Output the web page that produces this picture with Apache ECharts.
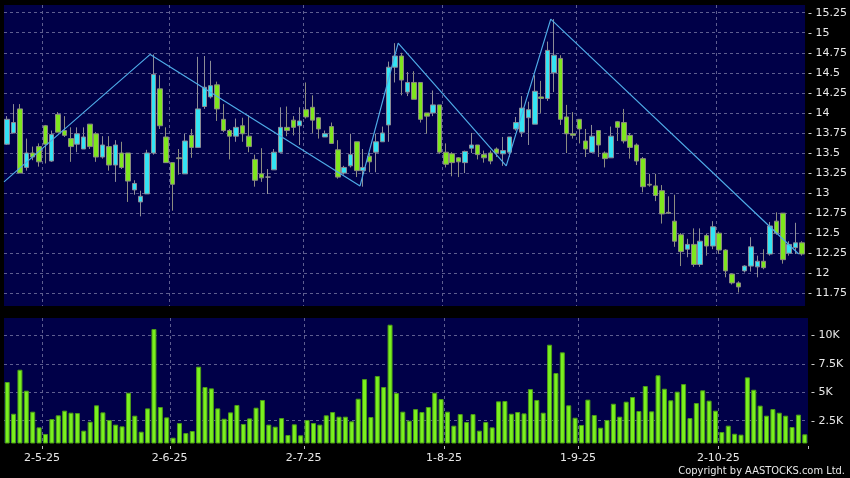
<!DOCTYPE html>
<html>
<head>
<meta charset="utf-8">
<script src="https://cdn.jsdelivr.net/npm/echarts@6/dist/echarts.min.js"></script>
<style>
  html, body { margin: 0; padding: 0; background: #000; }
  #chart { width: 850px; height: 478px; }
</style>
</head>
<body>
<div id="chart"></div>
<script>
// trading days, Apr - Oct 2025
const dates = [
  '23-4-25', '24-4-25', '25-4-25', '28-4-25', '29-4-25', '30-4-25',
  '2-5-25', '6-5-25', '7-5-25', '8-5-25', '9-5-25', '12-5-25', '13-5-25', '14-5-25', '15-5-25', '16-5-25',
  '19-5-25', '20-5-25', '21-5-25', '22-5-25', '23-5-25', '26-5-25', '27-5-25', '28-5-25', '29-5-25', '30-5-25',
  '2-6-25', '3-6-25', '4-6-25', '5-6-25', '6-6-25', '9-6-25', '10-6-25', '11-6-25', '12-6-25', '13-6-25',
  '16-6-25', '17-6-25', '18-6-25', '19-6-25', '20-6-25', '23-6-25', '24-6-25', '25-6-25', '26-6-25', '27-6-25', '30-6-25',
  '2-7-25', '3-7-25', '4-7-25', '7-7-25', '8-7-25', '9-7-25', '10-7-25', '11-7-25', '14-7-25', '15-7-25', '16-7-25',
  '17-7-25', '18-7-25', '21-7-25', '22-7-25', '23-7-25', '24-7-25', '25-7-25', '28-7-25', '29-7-25', '30-7-25', '31-7-25',
  '1-8-25', '4-8-25', '5-8-25', '6-8-25', '7-8-25', '8-8-25', '11-8-25', '12-8-25', '13-8-25', '14-8-25', '15-8-25',
  '18-8-25', '19-8-25', '20-8-25', '21-8-25', '22-8-25', '25-8-25', '26-8-25', '27-8-25', '28-8-25', '29-8-25',
  '1-9-25', '2-9-25', '3-9-25', '4-9-25', '5-9-25', '8-9-25', '9-9-25', '10-9-25', '11-9-25', '12-9-25',
  '15-9-25', '16-9-25', '17-9-25', '18-9-25', '19-9-25', '22-9-25', '23-9-25', '24-9-25', '25-9-25', '26-9-25', '29-9-25', '30-9-25',
  '2-10-25', '3-10-25', '6-10-25', '8-10-25', '9-10-25', '10-10-25', '13-10-25', '14-10-25', '15-10-25', '16-10-25',
  '17-10-25', '20-10-25', '21-10-25', '22-10-25'
]
const labelDates = ['2-5-25', '2-6-25', '2-7-25', '1-8-25', '1-9-25', '2-10-25']

const open = [
  13.61, 13.75, 14.05, 13.32, 13.50, 13.58, 13.84, 13.40, 13.98, 13.78, 13.68, 13.61, 13.55, 13.86, 13.74, 13.45,
  13.58, 13.35, 13.50, 13.50, 13.04, 12.89, 12.99, 13.50, 14.30, 13.70, 13.38, 13.44, 13.24, 13.72, 13.57, 14.08,
  14.20, 14.35, 13.92, 13.78, 13.71, 13.84, 13.71, 13.42, 13.24, 13.20, 13.29, 13.51, 13.82, 13.91, 13.84, 14.04,
  14.07, 13.94, 13.70, 13.83, 13.54, 13.25, 13.34, 13.64, 13.28, 13.46, 13.51, 13.64, 13.85, 14.57, 14.71, 14.26,
  14.38, 14.38, 14.00, 14.00, 14.10, 13.51, 13.49, 13.44, 13.38, 13.56, 13.60, 13.48, 13.50, 13.55, 13.49, 13.51,
  13.80, 13.76, 13.94, 13.86, 14.20, 14.18, 14.50, 14.68, 13.95, 13.74, 13.92, 13.65, 13.51, 13.78, 13.50, 13.44,
  13.89, 13.88, 13.72, 13.60, 13.43, 13.11, 13.09, 13.03, 12.76, 12.65, 12.48, 12.30, 12.36, 12.11, 12.47, 12.34,
  12.50, 12.29, 11.99, 11.88, 12.03, 12.09, 12.08, 12.15, 12.24, 12.65, 12.75, 12.25, 12.32, 12.38
]
const close = [
  13.92, 13.88, 13.25, 13.50, 13.45, 13.39, 13.61, 13.73, 13.76, 13.72, 13.58, 13.74, 13.70, 13.58, 13.45, 13.60,
  13.35, 13.60, 13.32, 13.15, 13.12, 12.96, 13.50, 14.48, 13.84, 13.38, 13.11, 13.43, 13.65, 13.57, 14.05, 14.32,
  14.34, 14.05, 13.78, 13.71, 13.82, 13.74, 13.58, 13.16, 13.19, 13.20, 13.51, 13.82, 13.78, 13.82, 13.90, 13.95,
  13.91, 13.80, 13.74, 13.62, 13.20, 13.32, 13.48, 13.28, 13.32, 13.39, 13.64, 13.75, 14.57, 14.71, 14.41, 14.38,
  14.17, 13.92, 13.96, 14.10, 13.51, 13.36, 13.38, 13.39, 13.52, 13.60, 13.48, 13.44, 13.40, 13.50, 13.53, 13.70,
  13.88, 14.06, 14.04, 14.27, 14.18, 14.78, 14.72, 13.92, 13.74, 13.72, 13.80, 13.55, 13.71, 13.60, 13.43, 13.71,
  13.82, 13.65, 13.57, 13.40, 13.08, 13.10, 12.97, 12.74, 12.75, 12.40, 12.27, 12.36, 12.11, 12.40, 12.34, 12.58,
  12.29, 12.03, 11.88, 11.83, 12.09, 12.33, 12.15, 12.07, 12.59, 12.50, 12.17, 12.36, 12.38, 12.24
]
const low = [
  13.60, 13.75, 13.25, 13.28, 13.41, 13.33, 13.37, 13.39, 13.76, 13.70, 13.39, 13.51, 13.55, 13.55, 13.39, 13.43,
  13.28, 13.14, 13.30, 12.89, 12.98, 12.71, 12.99, 13.48, 13.80, 13.38, 12.78, 13.23, 13.24, 13.44, 13.57, 14.05,
  14.18, 13.90, 13.76, 13.42, 13.64, 13.64, 13.51, 13.08, 13.14, 12.99, 13.29, 13.51, 13.71, 13.72, 13.60, 13.93,
  13.75, 13.68, 13.70, 13.62, 13.18, 13.23, 13.32, 13.20, 13.08, 13.26, 13.26, 13.64, 13.64, 14.38, 14.22, 14.21,
  14.17, 13.88, 13.74, 13.96, 13.49, 13.32, 13.21, 13.20, 13.25, 13.50, 13.42, 13.38, 13.36, 13.45, 13.34, 13.45,
  13.78, 13.70, 13.60, 13.86, 14.00, 14.15, 14.26, 13.85, 13.50, 13.68, 13.62, 13.45, 13.50, 13.45, 13.32, 13.44,
  13.65, 13.62, 13.43, 13.35, 13.01, 13.08, 12.90, 12.62, 12.74, 12.33, 12.09, 12.20, 12.08, 12.08, 12.22, 12.30,
  12.24, 11.95, 11.86, 11.76, 12.01, 12.02, 11.95, 12.05, 12.22, 12.48, 12.12, 12.22, 12.24, 12.22
]
const high = [
  13.96, 14.11, 14.11, 13.68, 13.58, 13.62, 13.85, 13.78, 14.01, 13.96, 13.82, 13.82, 13.82, 13.86, 13.76, 13.71,
  13.71, 13.66, 13.64, 13.50, 13.16, 13.03, 13.54, 14.73, 14.47, 13.82, 13.38, 13.55, 13.74, 13.80, 14.70, 14.71,
  14.65, 14.39, 14.11, 13.80, 13.93, 13.94, 13.97, 13.48, 13.56, 13.30, 13.55, 14.07, 14.08, 13.96, 14.07, 14.38,
  14.22, 13.95, 13.78, 13.88, 13.66, 13.34, 13.74, 13.64, 13.55, 13.50, 13.74, 13.83, 14.64, 14.87, 14.75, 14.51,
  14.52, 14.38, 14.00, 14.28, 14.10, 13.62, 13.51, 13.45, 13.53, 13.75, 13.60, 13.53, 13.53, 13.57, 13.70, 13.70,
  13.95, 14.21, 14.14, 14.47, 14.40, 14.89, 15.17, 14.72, 14.10, 14.01, 13.92, 13.80, 13.85, 13.78, 13.52, 13.83,
  13.90, 14.05, 13.75, 13.62, 13.45, 13.24, 13.24, 13.10, 12.96, 12.98, 12.50, 12.43, 12.56, 12.56, 12.49, 12.65,
  12.52, 12.30, 12.00, 11.90, 12.10, 12.45, 12.22, 12.30, 12.64, 12.76, 12.75, 12.40, 12.63, 12.40
]
const volume = [
  5900, 3110, 6980, 5140, 3290, 1910, 1330, 2640, 2970, 3380, 3200, 3170, 1620, 2410, 3850, 3230,
  2560, 2150, 2000, 4960, 2940, 1530, 3580, 10560, 3700, 2790, 1000, 2290, 1410, 1590, 7250, 5460,
  5340, 3580, 2670, 3230, 3880, 2210, 2700, 3640, 4320, 2150, 1970, 2730, 1240, 2180, 1210, 2560,
  2290, 2150, 2970, 3260, 2850, 2850, 2440, 4430, 6160, 2820, 6430, 5460, 10940, 4930, 3290, 2500,
  3520, 3260, 3700, 4960, 4400, 3290, 2060, 3080, 2380, 3080, 1620, 2380, 1910, 4200, 4230, 3110,
  3260, 3140, 5280, 4320, 3200, 9180, 6690, 8510, 3850, 2760, 2120, 4350, 3000, 1880, 2560, 3990,
  2850, 4170, 4580, 3350, 5550, 3320, 6490, 5310, 4290, 5050, 5720, 2730, 4050, 5170, 4260, 3380,
  1500, 2060, 1350, 1270, 6310, 5220, 3820, 2940, 3520, 3200, 2940, 1940, 3030, 1300
]

// zigzag pivots: position on the bar boundaries, price
const zigzagAt = [0, 23, 56, 62, 79, 86, 125]
const zigzagPrice = [13.14, 14.73, 13.09, 14.87, 13.34, 15.17, 12.24]

const priceTicks = [11.75, 12, 12.25, 12.5, 12.75, 13, 13.25, 13.5, 13.75, 14, 14.25, 14.5, 14.75, 15, 15.25]
const volTicks = [2500, 5000, 7500, 10000]
const volTickLabels = ['2.5K', '5K', '7.5K', '10K']

const navy = '#000048'
const gridLine = { color: '#5e5e90', type: [3, 3], width: 1 }
const textStyle = { color: '#e8e8e8', fontFamily: 'DejaVu Sans', fontSize: 11 }
const isLabelDate = (i, v) => labelDates.includes(v)

const mychart = echarts.init(document.getElementById('chart'))
mychart.setOption({
    animation: false,
    backgroundColor: '#000',
    grid: [
        { left: 4, top: 5, width: 804, height: 301, show: true, backgroundColor: navy, borderWidth: 0 },
        { left: 4, top: 318, width: 804, height: 125, show: true, backgroundColor: navy, borderWidth: 0 }
    ],
    xAxis: [
        {
            type: 'category',
            gridIndex: 0,
            data: dates,
            boundaryGap: true,
            axisLine: { show: false },
            axisTick: { show: false },
            axisLabel: { show: false },
            splitLine: { show: true, interval: isLabelDate, showMaxLine: false, lineStyle: gridLine }
        },
        {
            type: 'category',
            gridIndex: 1,
            data: dates,
            boundaryGap: true,
            offset: 3,
            axisLine: { show: false },
            axisTick: { show: true, interval: isLabelDate, length: 3, lineStyle: { color: '#bbbbbb' } },
            axisLabel: Object.assign({ interval: isLabelDate, margin: 7, padding: [0, 7, 0, 0] }, textStyle),
            splitLine: { show: true, interval: isLabelDate, showMaxLine: false, lineStyle: gridLine }
        },
        {
            type: 'value',
            gridIndex: 0,
            min: 0,
            max: 126,
            show: false
        }
    ],
    yAxis: [
        {
            type: 'value',
            gridIndex: 0,
            position: 'right',
            min: 11.592,
            max: 15.346,
            axisLine: { show: false },
            axisTick: { show: false, customValues: priceTicks },
            axisLabel: Object.assign({
                customValues: priceTicks,
                margin: 3,
                formatter: function (value) { return '- ' + value }
            }, textStyle),
            splitLine: { show: true, customValues: priceTicks, lineStyle: gridLine }
        },
        {
            type: 'value',
            gridIndex: 1,
            position: 'right',
            min: 535,
            max: 11530,
            axisLine: { show: false },
            axisTick: { show: false, customValues: volTicks },
            axisLabel: Object.assign({
                customValues: volTicks,
                margin: 3,
                formatter: function (value) { return '- ' + volTickLabels[volTicks.indexOf(value)] }
            }, textStyle),
            splitLine: { show: true, customValues: volTicks, lineStyle: gridLine }
        }
    ],
    series: [
        {
            type: 'candlestick',
            xAxisIndex: 0,
            yAxisIndex: 0,
            barWidth: 5,
            data: dates.map((d, i) => [open[i], close[i], low[i], high[i]]),
            itemStyle: {
                color: '#33e4f4',
                color0: '#7ee61e',
                borderColor: '#8c8c96',
                borderColor0: '#8c8c80',
                borderColorDoji: '#9a9a9a',
                borderWidth: 1
            }
        },
        {
            type: 'line',
            xAxisIndex: 2,
            yAxisIndex: 0,
            data: zigzagAt.map((x, i) => [x, zigzagPrice[i]]),
            symbol: 'none',
            lineStyle: { color: '#4eaae6', width: 1.2 },
            z: 3
        },
        {
            type: 'bar',
            xAxisIndex: 1,
            yAxisIndex: 1,
            barWidth: 5,
            data: volume,
            itemStyle: { color: '#7af01f', borderColor: '#4c9c18', borderWidth: 1 }
        }
    ],
    graphic: [
        {
            type: 'text',
            right: 5,
            top: 466,
            style: {
                text: 'Copyright by AASTOCKS.com Ltd.',
                fill: '#e8e8e8',
                font: '11px "DejaVu Sans Condensed"'
            }
        }
    ]
})
</script>
</body>
</html>
